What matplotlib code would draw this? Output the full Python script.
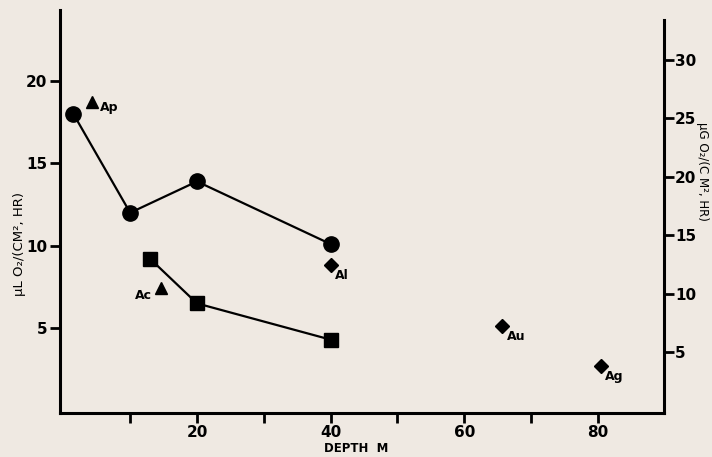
import matplotlib.pyplot as plt

# data (left axis units, uL O2 / cm2 hr)
circ_depth = [1.5, 10, 20, 40]
circ_val = [18.0, 12.0, 13.9, 10.1]

sq_depth = [13, 20, 40]
sq_val = [9.2, 6.5, 4.3]

tri_depth = [4.3, 14.6]
tri_val = [18.7, 7.45]
tri_names = ['Ap', 'Ac']

dia_depth = [40, 65.7, 80.5]
dia_val = [8.85, 5.15, 2.7]
dia_names = ['Al', 'Au', 'Ag']

ug_per_ul = 1.41

bg = '#efe9e2'
fig = plt.figure(figsize=(7.12, 4.57), dpi=100, facecolor=bg)
ax = fig.add_axes([0.0843, 0.0963, 0.8483, 0.8817])
ax.set_facecolor(bg)

ax.plot(circ_depth, circ_val, 'k-', lw=1.6, marker='o', ms=11)
ax.plot(sq_depth, sq_val, 'k-', lw=1.6, marker='s', ms=10)
ax.plot(tri_depth, tri_val, 'k^', ms=8, ls='none')
ax.plot(dia_depth, dia_val, 'kD', ms=7, ls='none')

# labels next to the single points
ax.annotate(tri_names[0], (tri_depth[0], tri_val[0]), xytext=(6, -6),
            textcoords='offset points', fontsize=9, fontweight='bold')
ax.annotate(tri_names[1], (tri_depth[1], tri_val[1]), xytext=(-19, -8),
            textcoords='offset points', fontsize=9, fontweight='bold')
for d, v, n in zip(dia_depth, dia_val, dia_names):
    ax.annotate(n, (d, v), xytext=(3, -10), textcoords='offset points',
                fontsize=9, fontweight='bold')

ax.set_xlim(-0.5, 89.9)
ax.set_ylim(-0.15, 24.3)

ax.set_xticks([10, 20, 30, 40, 50, 60, 70, 80])
ax.set_xticklabels(['', '20', '', '40', '', '60', '', '80'])
ax.set_yticks([5, 10, 15, 20])
ax.tick_params(length=7, width=2, labelsize=11, pad=2)
for lab in ax.get_xticklabels() + ax.get_yticklabels():
    lab.set_fontweight('bold')

for s in ['top', 'right']:
    ax.spines[s].set_visible(False)
for s in ['left', 'bottom']:
    ax.spines[s].set_linewidth(2.2)

ax.set_ylabel('µL O₂/(CM², HR)', fontsize=9.5)
ax.yaxis.set_label_coords(-0.057, 0.42)
ax.set_xlabel('DEPTH  M', fontsize=8.5, fontweight='bold')
ax.xaxis.set_label_coords(0.49, -0.072)

ax2 = ax.twinx()
ax2.set_ylim(-0.15 * ug_per_ul, 24.3 * ug_per_ul)
ax2.set_yticks([5, 10, 15, 20, 25, 30])
ax2.tick_params(length=7, width=2, labelsize=11, pad=1)
for lab in ax2.get_yticklabels():
    lab.set_fontweight('bold')
for s in ['top', 'left', 'bottom']:
    ax2.spines[s].set_visible(False)
ax2.spines['right'].set_linewidth(2.2)
ax2.spines['right'].set_bounds(-0.15 * ug_per_ul, 33.4)
ax2.set_ylabel('µG O₂/(C M², HR)', fontsize=8.5, rotation=-90, va='center')
ax2.yaxis.set_label_coords(1.064, 0.6)

fig.savefig('out.png', dpi=100, facecolor=bg)
